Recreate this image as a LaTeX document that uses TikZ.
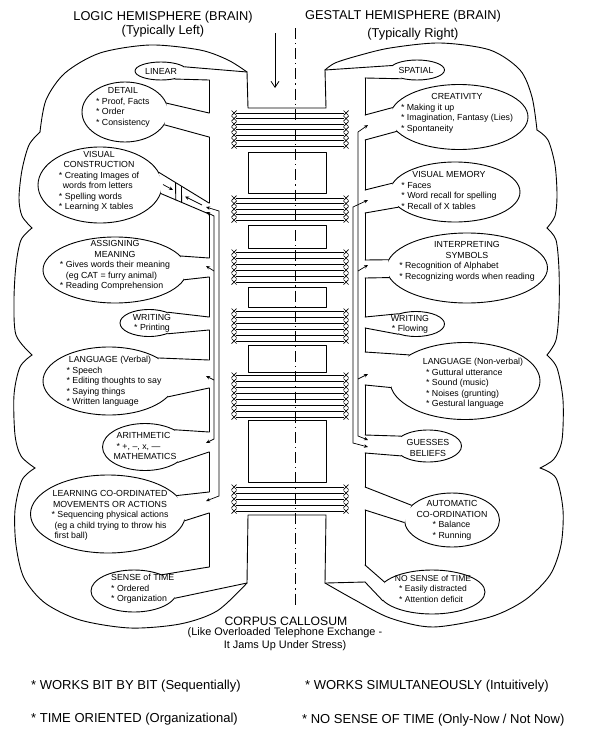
\documentclass[tikz,border=0pt]{standalone}
\usepackage{fontspec}
\setmainfont{Liberation Sans}
\usetikzlibrary{shapes.geometric,arrows.meta,calc}
\newcommand\bl[1]{\begin{tabular}[t]{@{}l@{}}#1\end{tabular}}
\newcommand\neck[4]{\fill[white] (#1) -- (#2) -- (#3) -- (#4) -- cycle; \draw[ln] (#1) -- (#2) (#3) -- (#4);}
\begin{document}
\begin{tikzpicture}[x=1pt,y=-1pt,
  ln/.style={line width=0.9pt,line join=round,line cap=round},
  bub/.style={ellipse,draw,line width=0.9pt,fill=white,inner sep=0pt},
  txt/.style={align=center,inner sep=0pt,font=\fontsize{8.8}{10.5}\selectfont},
  ttl/.style={inner sep=0pt,font=\fontsize{12.8}{15}\selectfont},
  btm/.style={inner sep=0pt,anchor=west,font=\fontsize{13}{16}\selectfont},
  fib/.style={line width=0.7pt},
  arr/.style={line width=0.7pt,-{Stealth[length=4pt,width=3.5pt]}},
  barr/.style={line width=0.7pt,{Stealth[length=4pt,width=3.5pt]}-{Stealth[length=4pt,width=3.5pt]}},
]
\fill[white] (0,0) rectangle (591,755);
\useasboundingbox (0,0) rectangle (591,755);

% ---------- centre: boxes and fibre bundles
\foreach \a/\b in {152/193,225/248,287/307,345/372,420/482}{\draw[ln] (248,\a) rectangle (326,\b);}
\foreach \y in {113,118.5,124,129.5,135,140.5,146,198,203.5,209,214.5,220,252,258,264,270,276,282,311,317,323,329,335,341,375,381,387,393,399,405,411,417,487,493,499,505,511}{
  \draw[fib] (236,\y) -- (344,\y);
  \draw[fib] (231.5,\y-2.5) -- (236.5,\y+2.5) (231.5,\y+2.5) -- (236.5,\y-2.5);
  \draw[fib] (343.5,\y-2.5) -- (348.5,\y+2.5) (343.5,\y+2.5) -- (348.5,\y-2.5);
}
\draw[ln] (247,72) -- (248,108) -- (326,108) -- (325,70);
\draw[ln] (247,583) -- (248,515) -- (326,515) -- (325,583);
\draw[line width=0.7pt,dash pattern=on 11pt off 4pt on 1.2pt off 4pt] (295,28) -- (295,606);
\coordinate (a0) at (275,33);
\coordinate (a1) at (275,88);
\draw[line width=0.8pt,-{Straight Barb[length=6pt,width=8pt]}] (a0) -- (a1);

% ---------- bubbles, left
\node[bub,minimum width=52,minimum height=18] (linear) at (161,71) {};
\node[bub,minimum width=86,minimum height=60] (detail) at (125,112) {};
\node[bub,minimum width=124,minimum height=76] (vc) at (100,185) {};
\node[bub,minimum width=144,minimum height=66] (assign) at (115,270) {};
\node[bub,minimum width=58,minimum height=27] (writingL) at (149,323) {};
\node[bub,minimum width=132,minimum height=68] (langV) at (109,381) {};
\node[bub,minimum width=85,minimum height=47] (arith) at (145,447) {};
\node[bub,minimum width=155,minimum height=78] (learn) at (108,514) {};
\node[bub,minimum width=86,minimum height=42] (senseT) at (134,591) {};
% ---------- bubbles, right
\node[bub,minimum width=55,minimum height=20] (spatial) at (417,70) {};
\node[bub,minimum width=138,minimum height=65] (creat) at (459,117) {};
\node[bub,minimum width=130,minimum height=60] (vm) at (455,192) {};
\node[bub,minimum width=161,minimum height=70] (interp) at (467,268) {};
\node[bub,minimum width=57,minimum height=25] (writingR) at (416,324) {};
\node[bub,minimum width=150,minimum height=77] (langNV) at (465,381) {};
\node[bub,minimum width=67,minimum height=32] (guess) at (428,446) {};
\node[bub,minimum width=95,minimum height=54] (auto) at (452,520) {};
\node[bub,minimum width=106,minimum height=44] (nosense) at (432,592) {};

% ---------- necks, left
\neck{247,72}{linear.10}{linear.-30}{209,80}
\neck{209,113}{detail.12}{detail.-18}{209,137}
\fill[white] (209,203) -- (vc.12) -- (vc.-8) -- (209,214) -- cycle;
\draw[ln] (vc.12) -- (209,203) (vc.-8) -- (209,214);
\draw[ln] ($(vc.12)!0.33!(209,203)$) -- ($(vc.-8)!0.31!(209,214)$);
\draw[ln] ($(vc.12)!0.45!(209,203)$) -- ($(vc.-8)!0.43!(209,214)$);
\draw[arr] (163,184.5) -- (173,190);
\draw[arr] (202,205) -- (185,196.5);
\neck{209,258}{assign.12}{assign.-8}{209,277}
\neck{209,317}{writingL.30}{writingL.-30}{209,330}
\neck{209,360}{langV.25}{langV.-15}{209,388}
\neck{209,432}{arith.30}{arith.-25}{209,452}
\neck{209,492}{learn.15}{learn.-5}{209,513}
\neck{209,567}{senseT.30}{senseT.-10}{247,583}
% ---------- necks, right
\neck{325,70}{spatial.170}{spatial.210}{365,78}
\neck{365,115}{creat.172}{creat.193}{365,140}
\neck{365,190}{vm.172}{vm.195}{365,213}
\neck{365,260}{interp.174}{interp.187}{365,278}
\neck{365,317}{writingR.150}{writingR.210}{365,328}
\neck{365,352}{langNV.155}{langNV.185}{365,385}
\neck{365,435}{guess.160}{guess.200}{365,453}
\neck{365,487}{auto.160}{auto.183}{365,510}
\neck{365,565}{nosense.168}{nosense.190}{365,582}
\draw[ln] (365,582) -- (326,583);

% ---------- comb walls
\draw[ln] (209,80)--(209,113) (209,137)--(209,203) (209,214)--(209,258) (209,277)--(209,317)
  (209,330)--(209,360) (209,388)--(209,432) (209,452)--(209,492) (209,513)--(209,567);
\draw[ln] (365,78)--(365,115) (365,140)--(365,190) (365,213)--(365,260) (365,278)--(365,317)
  (365,328)--(365,352) (365,385)--(365,435) (365,453)--(365,487) (365,510)--(365,565);

% ---------- outer outlines
\draw[ln] plot[smooth] coordinates {(247,72) (228,60) (200,50) (150,45) (100,53) (65,73) (46,100) (40,132)};
\draw[ln] plot[smooth] coordinates {(40,132) (29,145) (22,170) (19,198) (22,216) (32,228)};
\draw[ln] plot[smooth] coordinates {(32,228) (21,240) (16,265) (14,300) (16,335) (32,355)};
\draw[ln] plot[smooth] coordinates {(32,355) (20,367) (14,395) (15,435) (21,456) (35,468)};
\draw[ln] plot[smooth] coordinates {(35,468) (22,480) (15,510) (16,545) (24,578) (45,603) (80,620) (130,628) (180,624) (217,611) (247,583)};
\draw[ln] plot[smooth] coordinates {(325,70) (335,63) (357,56) (390,48) (440,43) (490,50) (520,70) (532,97) (537,130)};
\draw[ln] plot[smooth] coordinates {(537,130) (548,140) (555,165) (557,195) (555,216) (547,228)};
\draw[ln] plot[smooth] coordinates {(547,228) (556,240) (559,270) (559,310) (556,340) (547,355)};
\draw[ln] plot[smooth] coordinates {(547,355) (557,368) (563,400) (562,440) (554,459) (540,468)};
\draw[ln] plot[smooth] coordinates {(540,468) (556,478) (563,510) (561,545) (550,575) (525,600) (490,617) (433,627) (390,618) (355,600) (325,583)};

% ---------- arrows between areas
\draw[barr] (206,207) -- (219,211) -- (219,496) -- (206,501);
\draw[barr] (206,212) -- (214,216) -- (214,439) -- (206,443);
\draw[arr] (214,271) -- (206,266);
\draw[arr] (214,380) -- (206,376);
\draw[barr] (368,125) -- (358,132) -- (358,436) -- (368,440);
\draw[barr] (368,200) -- (353,207) -- (353,443) -- (368,447);
\draw[arr] (358,271) -- (368,265);
\draw[arr] (358,379) -- (368,374);

% ---------- texts, left
\node[txt] (linearT) at (161,71) {LINEAR};
\node[txt] (detailT) at (123,108) {DETAIL\\\bl{* Proof, Facts\\{}* Order\\{}* Consistency}};
\node[txt] (vcT) at (99,182) {VISUAL\\CONSTRUCTION\\\bl{* Creating Images of\\\hspace*{4pt}words from letters\\{}* Spelling words\\{}* Learning X tables}};
\node[txt] (assignT) at (115,266) {ASSIGNING\\MEANING\\\bl{* Gives words their meaning\\\hspace*{6pt}(eg CAT = furry animal)\\{}* Reading Comprehension}};
\node[txt] (writingLT) at (152,324) {WRITING\\\bl{* Printing}};
\node[txt] (langVT) at (110,382) {LANGUAGE (Verbal)\\\hspace*{8pt}\bl{* Speech\\{}* Editing thoughts to say\\{}* Saying things\\{}* Written language}};
\node[txt,align=left] (arithT) at (145,446) {\hspace*{3pt}ARITHMETIC\\\hspace*{3pt}* +, –, x, —\\MATHEMATICS};
\node[txt] (learnT) at (110,516) {LEARNING CO-ORDINATED\\MOVEMENTS OR ACTIONS\\\bl{* Sequencing physical actions\\\hspace*{3pt}(eg a child trying to throw his\\\hspace*{3pt}first ball)}};
\node[txt,align=left,anchor=west] (senseTT) at (111,589) {SENSE of TIME\\{}* Ordered\\{}* Organization};
% ---------- texts, right
\node[txt] (spatialT) at (416,70) {SPATIAL};
\node[txt] (creatT) at (457,114) {CREATIVITY\\\bl{* Making it up\\{}* Imagination, Fantasy (Lies)\\{}* Spontaneity}};
\node[txt] (vmT) at (449,192) {VISUAL MEMORY\\\bl{* Faces\\{}* Word recall for spelling\\{}* Recall of X tables}};
\node[txt] (interpT) at (467,262) {INTERPRETING\\SYMBOLS\\\bl{* Recognition of Alphabet\\{}* Recognizing words when reading}};
\node[txt] (writingRT) at (410,325) {WRITING\\\bl{* Flowing}};
\node[txt] (langNVT) at (473,384) {LANGUAGE (Non-verbal)\\\bl{* Guttural utterance\\{}* Sound (music)\\{}* Noises (grunting)\\{}* Gestural language}\hspace*{16pt}};
\node[txt] (guessT) at (428,448) {GUESSES\\BELIEFS};
\node[txt] (autoT) at (452,521) {AUTOMATIC\\CO-ORDINATION\\\bl{* Balance\\{}* Running}};
\node[txt,font=\fontsize{8.5}{10.5}\selectfont] (nosenseT) at (433,590) {NO SENSE of TIME\\\bl{* Easily distracted\\{}* Attention deficit}};

% ---------- titles and notes
\node[ttl] (t1) at (163,17) {LOGIC HEMISPHERE (BRAIN)};
\node[ttl] (t2) at (163,31) {(Typically Left)};
\node[ttl] (t3) at (403,16) {GESTALT HEMISPHERE (BRAIN)};
\node[ttl] (t4) at (413,34) {(Typically Right)};
\node[inner sep=0pt,font=\fontsize{12.2}{14}\selectfont] (cc) at (286,621) {CORPUS CALLOSUM};
\node[inner sep=0pt,align=center,font=\fontsize{10.9}{12.5}\selectfont] (cc2) at (285,639) {(Like Overloaded Telephone Exchange -\\It Jams Up Under Stress)};
\node[btm] (b1) at (31,686) {* WORKS BIT BY BIT (Sequentially)};
\node[btm] (b2) at (31,719) {* TIME ORIENTED (Organizational)};
\node[btm] (b3) at (305,686) {* WORKS SIMULTANEOUSLY (Intuitively)};
\node[btm] (b4) at (302,720) {* NO SENSE OF TIME (Only-Now / Not Now)};
\end{tikzpicture}
\end{document}
